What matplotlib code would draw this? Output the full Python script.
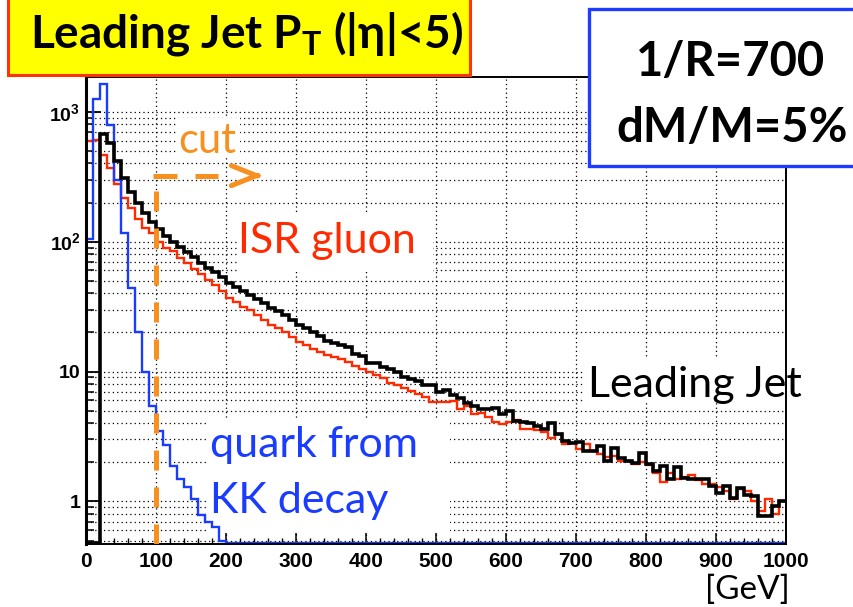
import numpy as np
import matplotlib.pyplot as plt
from matplotlib.patches import Rectangle
from matplotlib.ticker import LogLocator, MultipleLocator, NullFormatter

plt.rcParams['mathtext.fontset'] = 'custom'
plt.rcParams['mathtext.rm'] = 'Lato:bold'
plt.rcParams['mathtext.it'] = 'Lato:bold'
plt.rcParams['mathtext.bf'] = 'Lato:bold'

# 10 GeV bins from 0 to 1000
bin_edges = np.arange(0, 1010, 10)

leading_jet = [0, 0, 675, 573, 414, 307, 242, 197, 165, 142,
               124, 110, 100, 91, 83, 76, 69, 63, 58, 53,
               48, 44.5, 41.5, 38.5, 36, 33.5, 31, 29, 27, 25,
               23, 21.5, 20, 18.8, 17.2, 16.5, 16.0, 15.4, 13.6, 13.1,
               11.7, 11.6, 10.9, 10.4, 9.9, 9.0, 8.7, 8.4, 7.9, 7.9,
               7.0, 7.25, 6.6, 6.2, 5.7, 5.4, 5.1, 5.1, 5.25, 4.7,
               4.95, 4.15, 4.05, 4.0, 3.8, 3.58, 4.0, 3.28, 2.91, 2.83,
               2.85, 2.44, 2.44, 2.67, 2.04, 2.59, 2.17, 2.04, 1.98, 2.34,
               1.93, 1.71, 1.87, 1.48, 1.85, 1.52, 1.48, 1.48, 1.5, 1.31,
               1.17, 1.31, 1.07, 1.27, 1.13, 1.1, 0.77, 0.77, 0.92, 1.0]

isr_gluon = [590, 610, 463, 366, 280, 218, 180, 150, 128, 116,
             100, 90, 84, 75, 68, 62, 56, 51, 46, 41.5,
             37, 34, 31.5, 29.5, 27, 25, 23, 21.5, 20, 18.5,
             17, 16, 15, 14.2, 13.3, 12.9, 12.4, 11.8, 11.0, 10.4,
             9.9, 9.4, 8.9, 8.2, 7.9, 7.5, 7.1, 6.7, 6.4, 5.8,
             5.8, 5.8, 5.9, 5.1, 5.4, 4.7, 4.8, 4.5, 4.05, 3.95,
             4.05, 4.25, 3.6, 3.6, 3.55, 3.4, 3.1, 3.3, 2.75, 2.8,
             2.55, 2.75, 2.45, 2.3, 2.2, 2.25, 2.05, 2.05, 1.95, 2.0,
             1.9, 1.65, 1.4, 1.65, 1.48, 1.55, 1.6, 1.45, 1.35, 1.35,
             1.3, 1.2, 1.05, 1.25, 1.2, 1.0, 0.85, 1.05, 0.8, 1.0]

kk_quark = [105, 1250, 1640, 790, 300, 117, 44, 20, 10, 5.4,
            3.47, 2.74, 1.87, 1.48, 1.28, 1.04, 0.79, 0.69, 0.63, 0.5] + [0] * 80

y_ticks = [1, 10, 100, 1000]
y_tick_labels = ['1', '10', r'$\mathregular{10^{2}}$', r'$\mathregular{10^{3}}$']
x_ticks = list(range(0, 1001, 100))

cut_pt = 100
ymin, ymax = 0.47, 1850

orange = '#F7901E'
red = '#FF2A00'
blue = '#1A3CFF'


def fx(px):
    return px / 854.0


def fy(py):
    return 1 - py / 607.0


def floor(vals):
    vals = np.asarray(vals, float)
    return np.where(vals > 0, vals, ymin * 1.02)


fig = plt.figure(figsize=(8.54, 6.07), dpi=100)
ax = fig.add_axes([fx(86), fy(544), fx(786) - fx(86), fy(77) - fy(544)])
ax.set_yscale('log')
ax.set_xlim(0, 1000)
ax.set_ylim(ymin, ymax)

# white text-box backgrounds (hide the grid behind the labels)
for (x0, y0, x1, y1) in [(176, 118, 240, 158), (237, 215, 433, 272),
                         (208, 420, 450, 532), (583, 357, 805, 402)]:
    ax.add_patch(Rectangle((fx(x0), fy(y1)), fx(x1) - fx(x0), fy(y0) - fy(y1),
                           transform=fig.transFigure, fc='white', ec='none',
                           zorder=1, clip_on=False))

ax.stairs(floor(isr_gluon), bin_edges, color=red, lw=1.7, baseline=None, zorder=2)
ax.stairs(floor(kk_quark), bin_edges, color=blue, lw=1.7, baseline=None, zorder=2)
ax.stairs(floor(leading_jet), bin_edges, color='black', lw=2.6, baseline=None, zorder=2)

# cut line and arrow
ax.plot([cut_pt, cut_pt], [ymin, 250], color=orange, lw=3.6, ls=(0, (4, 3.4)), zorder=3)
ax.plot([96, 189], [322, 322], color=orange, lw=3.6, ls=(0, (4.8, 3.6)), zorder=3)
ax.annotate('', xy=(253, 322), xytext=(243, 322),
            arrowprops=dict(arrowstyle='->,head_length=1.8,head_width=0.72',
                            color=orange, lw=3.6, shrinkA=0, shrinkB=0), zorder=3)

ax.set_axisbelow(True)
ax.grid(True, which='major', axis='x', color='black', ls=(0, (1, 2.5)), lw=0.9)
ax.grid(True, which='both', axis='y', color='black', ls=(0, (1, 2.5)), lw=0.9)

ax.set_xticks(x_ticks)
ax.xaxis.set_minor_locator(MultipleLocator(20))
ax.set_yticks(y_ticks)
ax.set_yticklabels(y_tick_labels)
ax.yaxis.set_minor_locator(LogLocator(base=10, subs=range(2, 10)))
ax.yaxis.set_minor_formatter(NullFormatter())

ax.tick_params(axis='both', which='both', direction='in')
ax.tick_params(axis='y', which='major', length=11, width=1.3, pad=4, labelsize=14)
ax.tick_params(axis='y', which='minor', length=6, width=1.1)
ax.tick_params(axis='x', which='major', length=8, width=1.1, pad=6, labelsize=15)
ax.tick_params(axis='x', which='minor', length=4, width=1.0)
for lab in ax.get_xticklabels() + ax.get_yticklabels():
    lab.set_fontfamily('Liberation Sans')
    lab.set_fontweight('bold')
for s in ax.spines.values():
    s.set_linewidth(1.4)
ax.spines['left'].set_linewidth(2.2)

txt = dict(family=['Lato', 'DejaVu Sans'], va='baseline', zorder=6)
fig.text(fx(178), fy(153), 'cut', color=orange, fontsize=30, **txt)
fig.text(fx(238), fy(253), 'ISR gluon', color=red, fontsize=31, **txt)
fig.text(fx(588), fy(397), 'Leading Jet', color='black', fontsize=31, **txt)
fig.text(fx(210), fy(457), 'quark from', color=blue, fontsize=31, **txt)
fig.text(fx(210), fy(513), 'KK decay', color=blue, fontsize=31, **txt)
fig.text(fx(790), fy(599), '[GeV]', color='black', fontsize=24, ha='right', **txt)

# title box
fig.add_artist(Rectangle((fx(8), fy(75)), fx(470) - fx(8), fy(-5) - fy(75),
                         transform=fig.transFigure, fc='#FFFF00', ec='#FF3300',
                         lw=2.2, zorder=5))
fig.text(fx(247), fy(47), r'Leading Jet P$_\mathregular{T}$ (|$\eta$|<5)', color='black',
         fontsize=33, fontweight='bold', ha='center', **txt)

# parameter box
fig.add_artist(Rectangle((fx(589), fy(166)), fx(870) - fx(589), fy(9) - fy(166),
                         transform=fig.transFigure, fc='white', ec='#1E3CFF',
                         lw=2.4, zorder=5))
bold = dict(txt, fontweight='bold', ha='center')
fig.text(fx(731), fy(76), '1/R=700', color='black', fontsize=34, **bold)
fig.text(fx(732), fy(142), 'dM/M=5%', color='black', fontsize=34, **bold)

fig.savefig('out.png', dpi=100)
